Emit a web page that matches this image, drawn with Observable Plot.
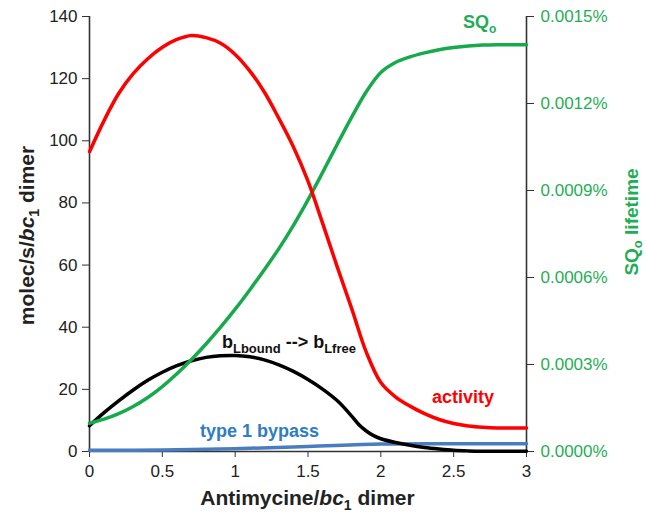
<!DOCTYPE html>
<html><head><meta charset="utf-8">
<script src="https://cdn.jsdelivr.net/npm/d3@7"></script>
<script src="https://cdn.jsdelivr.net/npm/@observablehq/plot@0.6"></script>
<style>
body{margin:0;background:#fff;}
#chart svg{display:block;}
</style>
</head><body><div id="chart"></div>
<script>
// x positions (Antimycine / bc1 dimer)
const activityX = [0,0.1,0.2,0.3,0.4,0.5,0.6,0.7,0.8,0.9,1.0,1.1,1.2,1.3,1.4,1.5,1.6,1.7,1.8,1.9,2.0,2.1,2.2,2.3,2.4,2.5,2.6,2.7,2.8,2.9,3.0];
const activityY = [96.5,106.5,115.2,121.6,126.4,130.1,132.6,133.9,133.2,131.4,127.8,122.5,115.7,107.2,98,87,73.5,59.5,46,32,22.2,17.6,14.6,12.2,10.3,9,8.2,7.8,7.6,7.6,7.6];

const blX = [0,0.1,0.2,0.3,0.4,0.5,0.6,0.7,0.8,0.9,1.0,1.1,1.2,1.3,1.4,1.5,1.6,1.7,1.8,1.85,1.9,1.95,2.0,2.1,2.2,2.3,2.4,2.5,2.6,2.7,3.0];
const blY = [8.3,12.5,16.3,19.8,22.9,25.5,27.6,29.2,30.3,30.8,30.9,30.5,29.5,27.9,25.8,23.2,20.1,16.4,11.4,8.6,6.6,5.1,4.1,2.9,2.0,1.3,0.8,0.4,0.2,0.1,0.1];

const bypassX = [0,0.5,1.0,1.5,2.0,2.5,3.0];
const bypassY = [0.4,0.5,0.9,1.6,2.4,2.5,2.5];

// SQo lifetime, in percent (right axis)
const sqoX = [0,0.1,0.2,0.3,0.4,0.5,0.6,0.7,0.8,0.9,1.0,1.1,1.2,1.3,1.4,1.5,1.6,1.7,1.8,1.9,2.0,2.1,2.2,2.3,2.4,2.5,2.6,2.7,2.8,2.9,3.0];
const sqoPct = [0.0000975,0.0001114,0.0001307,0.0001554,0.0001864,0.0002239,0.0002679,0.0003171,0.0003707,0.0004286,0.0004907,0.0005571,0.0006268,0.0006996,0.00078,0.0008679,0.0009621,0.0010586,0.0011529,0.0012407,0.0013071,0.0013414,0.0013607,0.0013746,0.0013854,0.0013929,0.0013982,0.0014014,0.0014025,0.0014025,0.0014025];

const leftTicks = [0,20,40,60,80,100,120,140];
const rightTicks = [0,0.0003,0.0006,0.0009,0.0012,0.0015];
const xTicks = [0,0.5,1,1.5,2,2.5,3];

const LEFT_MAX = 140, RIGHT_MAX = 0.0015;
const toLeft = v => v * LEFT_MAX / RIGHT_MAX;

const RED = "#ff0000", GREEN = "#17aa4c", GREEN_TXT = "#1fae55", BLUE = "#4a7cc0", BLUE_TXT = "#2d7cc5", AX = "#333";

const rows = (xs, ys) => xs.map((x, i) => ({x, y: ys[i]}));
const activity = rows(activityX, activityY);
const bl = rows(blX, blY);
const bypass = rows(bypassX, bypassY);
const sqo = rows(sqoX, sqoPct.map(toLeft));

const FONT = "Liberation Sans, Arial, Helvetica, sans-serif";
const CURVE = "catmull-rom";

const chart = Plot.plot({
  width: 646, height: 515,
  marginLeft: 89, marginRight: 120, marginTop: 16, marginBottom: 64,
  style: {fontFamily: FONT, fontSize: "17px", color: "#222", background: "#fff"},
  x: {domain: [0, 3]},
  y: {domain: [0, 140]},
  marks: [
    Plot.axisX({ticks: xTicks, tickFormat: d => String(d), tickSize: 6, tickPadding: 7, label: null, stroke: AX, fill: "#222", fontSize: 17}),
    Plot.axisY({ticks: leftTicks, tickSize: 7, tickPadding: 5, label: null, stroke: AX, fill: "#222", fontSize: 17}),
    Plot.axisY({anchor: "right", ticks: rightTicks.map(toLeft), tickSize: 7, tickPadding: 7, label: null,
      tickFormat: d => (d * RIGHT_MAX / LEFT_MAX).toFixed(4) + "%", stroke: AX, fill: GREEN_TXT, fontSize: 17}),
    Plot.ruleX([0, 3], {stroke: AX, strokeWidth: 1.6}),
    Plot.ruleY([0], {stroke: AX, strokeWidth: 1.6}),
    Plot.line(bypass, {x: "x", y: "y", stroke: BLUE, strokeWidth: 3.5, curve: CURVE}),
    Plot.line(bl, {x: "x", y: "y", stroke: "#000", strokeWidth: 3.5, curve: CURVE}),
    Plot.line(sqo, {x: "x", y: "y", stroke: GREEN, strokeWidth: 3.5, curve: CURVE}),
    Plot.line(activity, {x: "x", y: "y", stroke: RED, strokeWidth: 3.5, curve: CURVE})
  ]
});

document.getElementById("chart").appendChild(chart);

const sx = chart.scale("x"), sy = chart.scale("y");
const svg = d3.select(chart);

function rich(parent, parts, attrs) {
  const t = parent.append("text").attr("font-family", FONT).attr("font-weight", "bold").attr("text-anchor", "start");
  for (const [k, v] of Object.entries(attrs)) t.attr(k, v);
  for (const p of parts) {
    const s = t.append("tspan").text(p.t);
    if (p.italic) s.attr("font-style", "italic");
    if (p.sub) s.attr("font-size", p.size).attr("dy", p.dy);
  }
  return t;
}

// x axis title
rich(svg, [
  {t: "Antimycine/"}, {t: "bc", italic: true},
  {t: "1", sub: true, size: "14px", dy: "5"}, {t: " dimer", sub: true, size: "21px", dy: "-5"}
], {x: (sx.apply(0) + sx.apply(3)) / 2, y: 505, "text-anchor": "middle", "font-size": "21px", fill: "#222"});

// left y axis title
rich(svg, [
  {t: "molec/s/"}, {t: "bc", italic: true},
  {t: "1", sub: true, size: "14px", dy: "5"}, {t: " dimer", sub: true, size: "21px", dy: "-5"}
], {transform: `translate(34,${(sy.apply(0) + sy.apply(140)) / 2 + 2}) rotate(-90)`, "text-anchor": "middle", "font-size": "21px", fill: "#222"});

// right y axis title
rich(svg, [
  {t: "SQ"}, {t: "o", sub: true, size: "13px", dy: "4"}, {t: " lifetime", sub: true, size: "19px", dy: "-4"}
], {transform: `translate(638,222) rotate(-90)`, "text-anchor": "middle", "font-size": "19px", fill: GREEN_TXT});

// annotations
rich(svg, [{t: "SQ"}, {t: "o", sub: true, size: "12px", dy: "5"}],
  {x: sx.apply(2.567), y: sy.apply(136.1), "font-size": "18px", fill: GREEN_TXT});

rich(svg, [
  {t: "b"}, {t: "Lbound", sub: true, size: "13px", dy: "5"},
  {t: " --> b", sub: true, size: "18px", dy: "-5"}, {t: "Lfree", sub: true, size: "13px", dy: "5"}
], {x: sx.apply(0.913), y: sy.apply(33.0), "font-size": "18px", fill: "#111"});

rich(svg, [{t: "activity"}],
  {x: sx.apply(2.354), y: sy.apply(15.4), "font-size": "18px", fill: RED});

rich(svg, [{t: "type 1 bypass"}],
  {x: sx.apply(0.762), y: sy.apply(4.6), "font-size": "18px", fill: BLUE_TXT});
</script>
</body></html>
